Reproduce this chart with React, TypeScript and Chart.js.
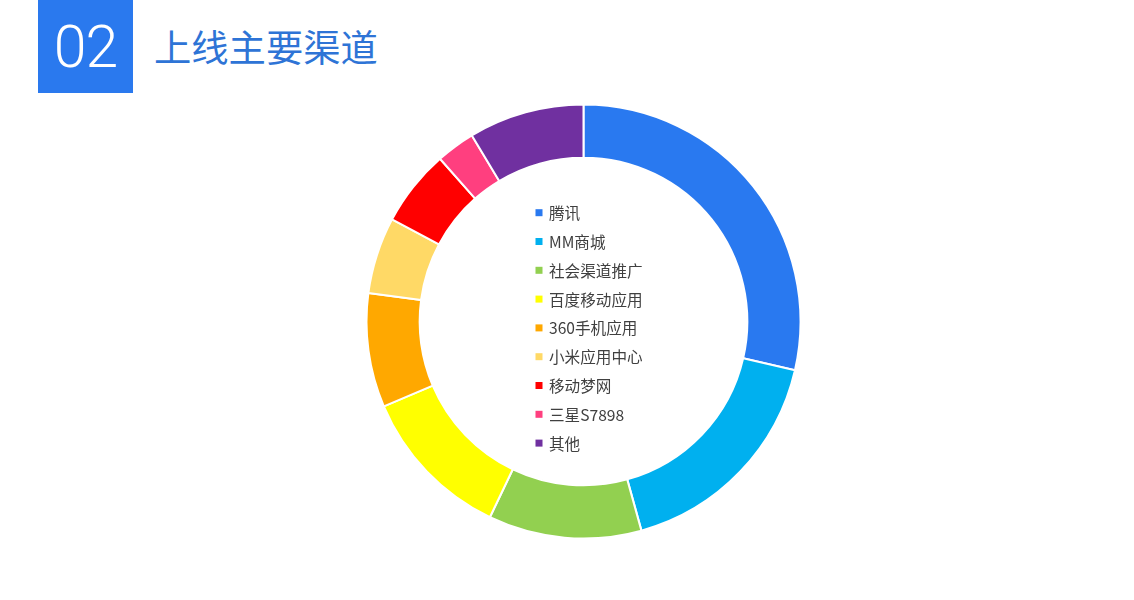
// @ts-nocheck
import {useEffect, useRef} from "react";
import {Chart, registerables} from 'chart.js';

Chart.register(...registerables);

const channels = ['腾讯', 'MM商城', '社会渠道推广', '百度移动应用', '360手机应用', '小米应用中心', '移动梦网', '三星S7898', '其他'];
const shares = [28.6, 17.1, 11.4, 11.5, 8.5, 5.7, 5.7, 2.9, 8.6];
const colors = ['#2979F0', '#00B0EF', '#92D050', '#FFFF00', '#FFA800', '#FFD966', '#FF0000', '#FF3F7F', '#7030A0'];

const FONT = '"Noto Sans CJK SC", "Microsoft YaHei", sans-serif';

// legend drawn in the hole of the doughnut
const centerLegend = {
    id: 'centerLegend',
    afterDraw(chart) {
        const ctx = chart.ctx;
        const labels = chart.data.labels;
        const bg = chart.data.datasets[0].backgroundColor;
        const x = 535.5;
        const y0 = 212.7;
        const step = 28.8;
        ctx.save();
        ctx.font = '15.6px ' + FONT;
        ctx.textBaseline = 'middle';
        labels.forEach((label, i) => {
            const y = y0 + i * step;
            ctx.fillStyle = bg[i];
            ctx.fillRect(x, y - 3.5, 7, 7);
            ctx.fillStyle = '#404040';
            ctx.fillText(label, x + 13.5, y + 0.5);
        });
        ctx.restore();
    }
};

export default function App() {
    const chartRef = useRef(null);
    const chartInstance = useRef(null);

    useEffect(() => {
        const ctx = chartRef.current?.getContext('2d');
        chartInstance.current = new Chart(ctx, {
            type: 'doughnut',
            data: {
                labels: channels,
                datasets: [
                    {
                        data: shares,
                        backgroundColor: colors,
                        borderColor: '#ffffff',
                        borderWidth: 2,
                    },
                ],
            },
            options: {
                responsive: false,
                animation: false,
                cutout: '75.5%',
                layout: {
                    padding: {top: 103.5, bottom: 60.5, left: 365.5, right: 332.5},
                },
                plugins: {
                    legend: {display: false},
                    tooltip: {enabled: false},
                },
            },
            plugins: [centerLegend],
        });

        return () => {
            chartInstance.current.destroy();
        };
    }, []);

    return (
        <div style={{position: 'fixed', left: 0, top: 0, width: 1134, height: 600, background: '#fff', overflow: 'hidden'}}>
            <div style={{
                position: 'absolute', left: 38, top: 0, width: 95, height: 93, background: '#2A79EE',
                color: '#fff', fontFamily: 'Roboto, sans-serif', fontWeight: 300, fontSize: 59,
                lineHeight: '93px', textAlign: 'center', letterSpacing: -1,
            }}>02</div>
            <div style={{
                position: 'absolute', left: 154, top: 22, fontFamily: FONT, fontSize: 37.3,
                lineHeight: '48px', color: '#2E74D6', whiteSpace: 'nowrap',
            }}>上线主要渠道</div>
            <canvas ref={chartRef} width={1134} height={600} style={{position: 'absolute', left: 0, top: 0}}/>
        </div>
    );
}
